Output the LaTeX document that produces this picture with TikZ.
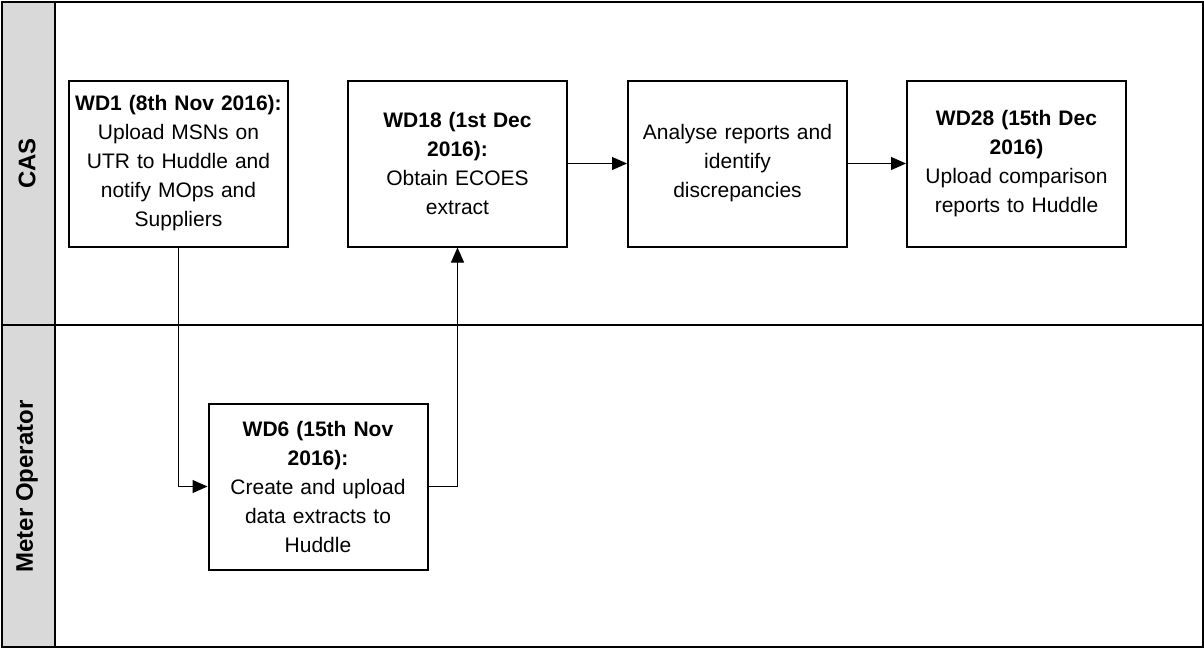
\documentclass[tikz,border=0pt]{standalone}
\usepackage{fontspec}
\setmainfont{Liberation Sans}
\usetikzlibrary{arrows.meta}
\definecolor{lanegray}{HTML}{D9D9D9}
\begin{document}
\begin{tikzpicture}[x=1pt,y=-1pt,
 box/.style={draw,line width=2pt,minimum width=219pt,minimum height=166pt,text width=212pt,align=center,font=\fontsize{21}{29}\selectfont,inner sep=0pt},
 lanelabel/.style={font=\fontsize{24}{28}\selectfont\bfseries,rotate=90},
 frame/.style={line width=2pt},
 flow/.style={line width=1pt,-{Triangle[length=15pt,width=13pt]}}]
\useasboundingbox (0,0) rectangle (1204,648);
\fill[lanegray] (2,2) rectangle (55,647);
\draw[frame] (2,2) rectangle (1203,647);
\draw[frame] (55,2) -- (55,647);
\draw[frame] (2,325) -- (1203,325);
\node[lanelabel] (cas) at (27,163.5) {CAS};
\node[lanelabel] (mop) at (27,486.5) {Meter Operator};
\node[box] (wd1) at (178.5,163.5) {\textbf{WD1 (8th Nov 2016):}\\Upload MSNs on\\UTR to Huddle and\\notify MOps and\\Suppliers};
\node[box] (wd18) at (457.5,163.5) {\textbf{WD18 (1st Dec}\\\textbf{2016):}\\Obtain ECOES\\extract};
\node[box] (ana) at (737.5,163.5) {Analyse reports and\\identify\\discrepancies};
\node[box] (wd28) at (1016.5,163.5) {\textbf{WD28 (15th Dec}\\\textbf{2016)}\\Upload comparison\\reports to Huddle};
\node[box] (wd6) at (318,486.5) {\textbf{WD6 (15th Nov}\\\textbf{2016):}\\Create and upload\\data extracts to\\Huddle};
\draw[flow] (wd1.south) |- (wd6.west);
\draw[flow] (wd6.east) -| (wd18.south);
\draw[flow] (wd18.east) -- (ana.west);
\draw[flow] (ana.east) -- (wd28.west);
\end{tikzpicture}
\end{document}
